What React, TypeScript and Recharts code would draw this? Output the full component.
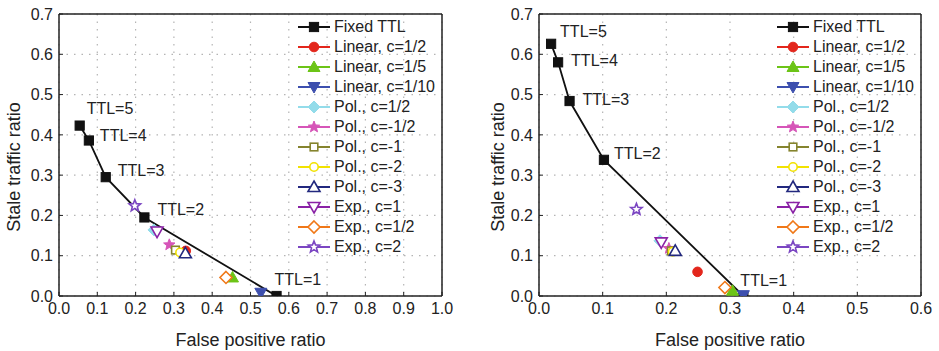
import React from "react";
import { ScatterChart, Scatter, XAxis, YAxis, CartesianGrid, Legend } from "recharts";

// Fixed TTL curve (left: small network, right: large network)
const TTL_LABELS = ["TTL=5", "TTL=4", "TTL=3", "TTL=2", "TTL=1"];
const LEFT_TTL_FP = [0.054, 0.078, 0.122, 0.223, 0.568];
const LEFT_TTL_STALE = [0.423, 0.386, 0.295, 0.195, 0.0];
const RIGHT_TTL_FP = [0.019, 0.03, 0.048, 0.102, 0.321];
const RIGHT_TTL_STALE = [0.626, 0.58, 0.484, 0.338, 0.0];

// single-point schemes, in legend order
const SERIES_NAMES = [
  "Linear, c=1/2",
  "Linear, c=1/5",
  "Linear, c=1/10",
  "Pol., c=1/2",
  "Pol., c=-1/2",
  "Pol., c=-1",
  "Pol., c=-2",
  "Pol., c=-3",
  "Exp., c=1",
  "Exp., c=1/2",
  "Exp., c=2",
];
const LEFT_FP = [0.331, 0.453, 0.527, 0.248, 0.288, 0.304, 0.316, 0.33, 0.256, 0.436, 0.198];
const LEFT_STALE = [0.112, 0.046, 0.008, 0.164, 0.127, 0.114, 0.108, 0.106, 0.16, 0.046, 0.224];
const RIGHT_FP = [0.249, 0.304, 0.321, 0.19, 0.204, 0.208, 0.21, 0.214, 0.192, 0.292, 0.153];
const RIGHT_STALE = [0.06, 0.013, 0.002, 0.137, 0.118, 0.112, 0.11, 0.112, 0.133, 0.021, 0.215];

const LEFT_X_TICKS = [0, 0.1, 0.2, 0.3, 0.4, 0.5, 0.6, 0.7, 0.8, 0.9, 1.0];
const RIGHT_X_TICKS = [0, 0.1, 0.2, 0.3, 0.4, 0.5, 0.6];
const Y_TICKS = [0, 0.1, 0.2, 0.3, 0.4, 0.5, 0.6, 0.7];

const FONT = '"Liberation Sans", Arial, sans-serif';
const INK = "#222";

const FIXED_STYLE = { color: "#111", shape: "square", filled: true };
const STYLES = [
  { color: "#e3261c", shape: "circle", filled: true },
  { color: "#6cc417", shape: "up", filled: true },
  { color: "#3d4fae", shape: "down", filled: true },
  { color: "#93dcea", shape: "diamond", filled: true },
  { color: "#d655b8", shape: "star", filled: true },
  { color: "#85842e", shape: "square", filled: false },
  { color: "#f2e200", shape: "circle", filled: false },
  { color: "#22287e", shape: "up", filled: false },
  { color: "#8a22a6", shape: "down", filled: false },
  { color: "#f07818", shape: "diamond", filled: false },
  { color: "#7b46c2", shape: "star", filled: false },
];

const LEFT_LABEL_OFFSETS = {
  "TTL=5": [7, -17],
  "TTL=4": [11, -5],
  "TTL=3": [12, -7],
  "TTL=2": [13, -8],
  "TTL=1": [-2, -17],
};
const RIGHT_LABEL_OFFSETS = {
  "TTL=5": [9, -12],
  "TTL=4": [13, -2],
  "TTL=3": [13, -2],
  "TTL=2": [10, -6],
  "TTL=1": [-3, -16],
};

const Marker = ({ cx, cy, shape, color, filled }) => {
  const fill = filled ? color : "#fff";
  const sw = filled ? 1 : 1.6;
  if (shape === "square") {
    const h = filled ? 4.6 : 3.8;
    return <rect x={cx - h} y={cy - h} width={2 * h} height={2 * h} fill={fill} stroke={color} strokeWidth={sw} />;
  }
  if (shape === "circle") {
    return <circle cx={cx} cy={cy} r={filled ? 4.8 : 4.2} fill={fill} stroke={color} strokeWidth={sw} />;
  }
  let pts = [];
  if (shape === "up") pts = [[0, -6], [6, 4.5], [-6, 4.5]];
  if (shape === "down") pts = [[0, 6], [6, -4.5], [-6, -4.5]];
  if (shape === "diamond") pts = [[0, -6], [6, 0], [0, 6], [-6, 0]];
  if (shape === "star") {
    for (let i = 0; i < 10; i++) {
      const r = i % 2 === 0 ? 6 : 2.6;
      const a = -Math.PI / 2 + (i * Math.PI) / 5;
      pts.push([r * Math.cos(a), r * Math.sin(a)]);
    }
  }
  return (
    <polygon
      points={pts.map((p) => `${cx + p[0]},${cy + p[1]}`).join(" ")}
      fill={fill}
      stroke={color}
      strokeWidth={sw}
      strokeLinejoin="miter"
    />
  );
};

const LegendBox = () => {
  const rows = [{ name: "Fixed TTL", ...FIXED_STYLE }].concat(
    SERIES_NAMES.map((name, i) => ({ name, ...STYLES[i] }))
  );
  return (
    <div style={{ fontFamily: FONT, fontSize: 16, color: INK }}>
      {rows.map((r) => (
        <div key={r.name} style={{ display: "flex", alignItems: "center", height: 20 }}>
          <svg width={32} height={20} style={{ display: "block" }}>
            <line x1={0} x2={32} y1={10} y2={10} stroke={r.color} strokeWidth={2} />
            <Marker cx={16} cy={10} shape={r.shape} color={r.color} filled={r.filled} />
          </svg>
          <span style={{ marginLeft: 4, whiteSpace: "nowrap", lineHeight: "20px" }}>{r.name}</span>
        </div>
      ))}
    </div>
  );
};

const fmt = (v) => v.toFixed(1);

const Panel = ({ width, margin, xMax, xTicks, ttlFp, ttlStale, fp, stale, labelOffsets, legendLeft, yTitleX }) => {
  const fixedData = TTL_LABELS.map((ttl, i) => ({ fp: ttlFp[i], stale: ttlStale[i], ttl }));
  const plotH = 282;

  const fixedShape = (props) => {
    const { cx, cy, payload } = props;
    const o = labelOffsets[payload.ttl];
    return (
      <g>
        <Marker cx={cx} cy={cy} {...FIXED_STYLE} />
        {o && (
          <text x={cx + o[0]} y={cy + o[1]} dominantBaseline="central" fontSize={16} fontFamily={FONT} fill={INK}>
            {payload.ttl}
          </text>
        )}
      </g>
    );
  };

  const yTitle = (props) => {
    const vb = props && props.viewBox && props.viewBox.height ? props.viewBox : { x: margin.left, y: 14, width: 1, height: plotH };
    const x = vb.x + vb.width + yTitleX;
    const y = vb.y + vb.height / 2 + 12;
    return (
      <text
        x={x}
        y={y}
        transform={`rotate(-90 ${x} ${y})`}
        textAnchor="middle"
        dominantBaseline="central"
        fontSize={18}
        fontFamily={FONT}
        fill={INK}
      >
        Stale traffic ratio
      </text>
    );
  };

  const tickStyle = { fill: INK, fontSize: 16, fontFamily: FONT };
  const axisLine = { stroke: INK, strokeWidth: 1.5 };

  return (
    <ScatterChart width={width} height={351} margin={margin}>
      <CartesianGrid stroke="#b4b4b4" strokeWidth={1.2} strokeDasharray="1.5 6" />
      <XAxis
        type="number"
        dataKey="fp"
        domain={[0, xMax]}
        ticks={xTicks}
        interval={0}
        tickFormatter={fmt}
        tickSize={-4}
        tickMargin={11}
        height={1}
        allowDataOverflow
        axisLine={axisLine}
        tickLine={{ stroke: INK }}
        tick={tickStyle}
        label={{ value: "False positive ratio", position: "bottom", offset: 36, fill: INK, fontSize: 18, fontFamily: FONT }}
      />
      <YAxis
        type="number"
        dataKey="stale"
        domain={[0, 0.7]}
        ticks={Y_TICKS}
        interval={0}
        tickFormatter={fmt}
        tickSize={-4}
        tickMargin={10}
        width={1}
        allowDataOverflow
        axisLine={axisLine}
        tickLine={{ stroke: INK }}
        tick={tickStyle}
        label={yTitle}
      />
      <XAxis
        xAxisId="top"
        orientation="top"
        type="number"
        domain={[0, xMax]}
        ticks={xTicks}
        interval={0}
        tick={false}
        tickSize={-4}
        height={1}
        axisLine={axisLine}
        tickLine={{ stroke: INK }}
      />
      <YAxis
        yAxisId="right"
        orientation="right"
        type="number"
        domain={[0, 0.7]}
        ticks={Y_TICKS}
        interval={0}
        tick={false}
        tickSize={-4}
        width={1}
        axisLine={axisLine}
        tickLine={{ stroke: INK }}
      />
      <Scatter
        name="Fixed TTL"
        data={fixedData}
        line={{ stroke: "#111", strokeWidth: 1.8 }}
        lineType="joint"
        shape={fixedShape}
        isAnimationActive={false}
      />
      {SERIES_NAMES.map((name, i) => (
        <Scatter
          key={name}
          name={name}
          data={[{ fp: fp[i], stale: stale[i] }]}
          shape={(p) => <Marker cx={p.cx} cy={p.cy} {...STYLES[i]} />}
          isAnimationActive={false}
        />
      ))}
      <Legend
        layout="vertical"
        align="center"
        verticalAlign="middle"
        wrapperStyle={{ left: legendLeft, top: 17, width: 172, height: 240 }}
        content={() => <LegendBox />}
      />
    </ScatterChart>
  );
};

export default function App() {
  return (
    <div style={{ position: "absolute", left: 0, top: 0, width: 939, height: 351, display: "flex", background: "#fff" }}>
      <Panel
        width={470}
        margin={{ top: 13, right: 27, left: 58, bottom: 54 }}
        xMax={1.0}
        xTicks={LEFT_X_TICKS}
        ttlFp={LEFT_TTL_FP}
        ttlStale={LEFT_TTL_STALE}
        fp={LEFT_FP}
        stale={LEFT_STALE}
        labelOffsets={LEFT_LABEL_OFFSETS}
        legendLeft={298}
        yTitleX={-45}
      />
      <Panel
        width={469}
        margin={{ top: 13, right: 17, left: 68, bottom: 54 }}
        xMax={0.6}
        xTicks={RIGHT_X_TICKS}
        ttlFp={RIGHT_TTL_FP}
        ttlStale={RIGHT_TTL_STALE}
        fp={RIGHT_FP}
        stale={RIGHT_STALE}
        labelOffsets={RIGHT_LABEL_OFFSETS}
        legendLeft={307}
        yTitleX={-41}
      />
    </div>
  );
}
